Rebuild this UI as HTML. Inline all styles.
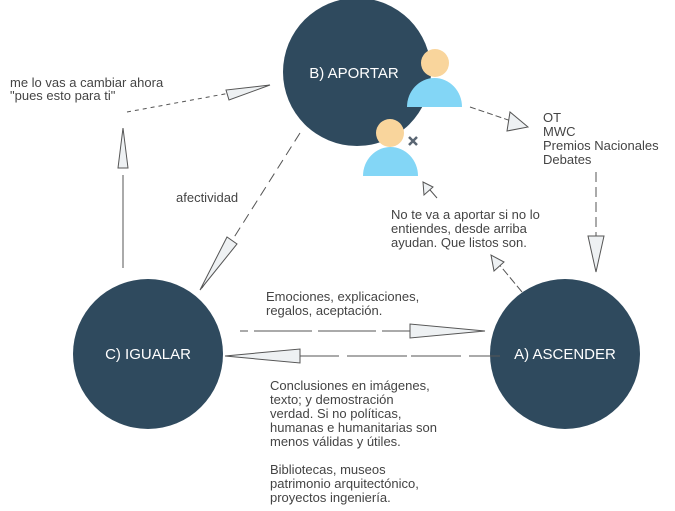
<!DOCTYPE html>
<html><head><meta charset="utf-8"><style>
body{margin:0;background:#fff;}
svg{display:block;font-family:"Liberation Sans",sans-serif;}
.t{font-size:13px;fill:#444;}
.c{font-size:15px;fill:#fff;}
.l{stroke:#555;stroke-width:1;fill:none;}
.h{fill:#eef1f3;stroke:#555;stroke-width:1;}
</style></head><body>
<svg width="675" height="511" viewBox="0 0 675 511">
<circle cx="357" cy="72" r="74" fill="#2f4a5e"/>
<circle cx="148" cy="354" r="75" fill="#2f4a5e"/>
<circle cx="565" cy="354" r="75" fill="#2f4a5e"/>
<text class="c" x="354" y="78" text-anchor="middle">B) APORTAR</text>
<text class="c" x="148" y="359" text-anchor="middle">C) IGUALAR</text>
<text class="c" x="565" y="359" text-anchor="middle">A) ASCENDER</text>
<circle cx="435" cy="63" r="14" fill="#f9d59c"/>
<path d="M407 107 A27.5 29 0 0 1 462 107 Z" fill="#83d6f6"/>
<circle cx="390" cy="133" r="14" fill="#f9d59c"/>
<path d="M363 176 A27.5 29 0 0 1 418 176 Z" fill="#83d6f6"/>
<path d="M409 137 L417 145 M417 137 L409 145" stroke="#5a6673" stroke-width="2.5"/>
<line class="l" x1="123" y1="268" x2="123" y2="175"/>
<line class="l" x1="123" y1="165" x2="123" y2="130" stroke-dasharray="3,3"/>
<polygon class="h" points="123,128 118,168 128,168"/>
<line class="l" x1="127" y1="112" x2="268" y2="86" stroke-dasharray="4,4"/>
<polygon class="h" points="270,85 226,90 229,100"/>
<line class="l" x1="300" y1="133" x2="202" y2="288" stroke-dasharray="10,6"/>
<polygon class="h" points="200,290 227,237 237,244"/>
<line class="l" x1="470" y1="107" x2="526" y2="126" stroke-dasharray="6,3"/>
<polygon class="h" points="528,127 510,112 507,131"/>
<line class="l" x1="596" y1="172" x2="596" y2="270" stroke-dasharray="10,5"/>
<polygon class="h" points="596,272 588,236 604,236"/>
<line class="l" x1="522" y1="292" x2="493" y2="257" stroke-dasharray="8,3"/>
<polygon class="h" points="491,255 494,271 504,262"/>
<line class="l" x1="437" y1="198" x2="424" y2="183"/>
<polygon class="h" points="423,182 424,195 433,187"/>
<line class="l" x1="240" y1="331" x2="485" y2="331" stroke-dasharray="8,6,50,0"/>
<polygon class="h" points="485,331 410,324 410,338"/>
<line class="l" x1="225" y1="356" x2="500" y2="356" stroke-dasharray="60,4,50,8"/>
<polygon class="h" points="225,356 300,349 300,363"/>
<text class="t" x="10" y="87">me lo vas a cambiar ahora</text>
<text class="t" x="10" y="100">"pues esto para ti"</text>
<text class="t" x="176" y="202">afectividad</text>
<text class="t" x="543" y="122">OT</text>
<text class="t" x="543" y="136">MWC</text>
<text class="t" x="543" y="150">Premios Nacionales</text>
<text class="t" x="543" y="164">Debates</text>
<text class="t" x="391" y="219">No te va a aportar si no lo</text>
<text class="t" x="391" y="233">entiendes, desde arriba</text>
<text class="t" x="391" y="247">ayudan. Que listos son.</text>
<text class="t" x="266" y="301">Emociones, explicaciones,</text>
<text class="t" x="266" y="315">regalos, aceptación.</text>
<text class="t" x="270" y="390">Conclusiones en imágenes,</text>
<text class="t" x="270" y="404">texto; y demostración</text>
<text class="t" x="270" y="418">verdad. Si no políticas,</text>
<text class="t" x="270" y="432">humanas e humanitarias son</text>
<text class="t" x="270" y="446">menos válidas y útiles.</text>
<text class="t" x="270" y="474">Bibliotecas, museos</text>
<text class="t" x="270" y="488">patrimonio arquitectónico,</text>
<text class="t" x="270" y="502">proyectos ingeniería.</text>
</svg>
</body></html>
